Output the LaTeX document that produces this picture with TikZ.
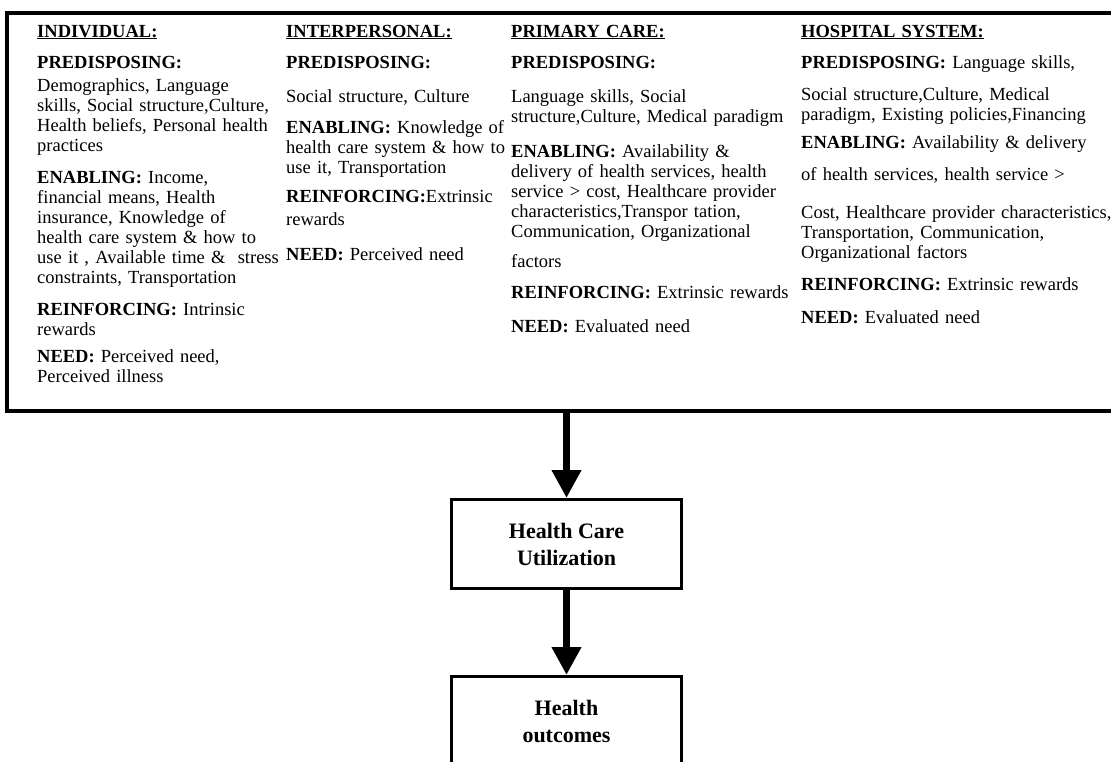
\documentclass[tikz,border=0pt]{standalone}
\usepackage{fontspec}
\setmainfont{Liberation Serif}
\usetikzlibrary{arrows.meta,positioning}

\newcommand{\hdr}[1]{\textbf{\underline{#1}}}
\newcommand{\lbl}[1]{\textbf{#1}}

\tikzset{
  txt/.style={anchor=base west, inner sep=0pt, text width=330pt, align=left,
    font=\fontsize{18.5}{20}\selectfont},
  frame/.style={draw, line width=3.5pt, inner sep=0pt},
  flowbox/.style={draw, line width=3pt, minimum width=230pt, minimum height=89pt,
    align=center, font=\bfseries\fontsize{22}{27}\selectfont},
  bigarrow/.style={line width=7pt, -{Triangle[width=28pt,length=28pt]}}
}

\begin{document}
\begin{tikzpicture}[x=1pt,y=-1pt]
	\useasboundingbox (0,0) rectangle (1111,761);
	\clip (0,0) rectangle (1111,761);
	
	% big frame round the four levels
	\node[frame, anchor=north west, minimum width=1125pt, minimum height=398pt] (levels) at (5,11) {};
	
	% individual
	\node[txt] (hdrA) at (37,37) {\hdr{INDIVIDUAL:}};
	\node[txt] (preA) at (37,68) {\lbl{PREDISPOSING:}\\[3pt]Demographics, Language\\skills, Social structure,Culture,\\Health beliefs, Personal health\\practices};
	\node[txt] (enA) at (37,183) {\lbl{ENABLING:} Income,\\financial means, Health\\insurance, Knowledge of\\health care system \& how to\\use it , Available time \&~ stress\\constraints, Transportation};
	\node[txt] (reA) at (37,315) {\lbl{REINFORCING:} Intrinsic\\rewards};
	\node[txt] (neA) at (37,362) {\lbl{NEED:} Perceived need,\\Perceived illness};
	
	% interpersonal
	\node[txt] (hdrB) at (286,37) {\hdr{INTERPERSONAL:}};
	\node[txt] (preB) at (286,68) {\lbl{PREDISPOSING:}};
	\node[txt] (preBx) at (286,102) {Social structure, Culture};
	\node[txt] (enB) at (286,133) {\lbl{ENABLING:} Knowledge of\\health care system \& how to\\use it, Transportation};
	\node[txt] (reB) at (286,202) {\lbl{REINFORCING:}Extrinsic\\[3pt]rewards};
	\node[txt] (neB) at (286,260) {\lbl{NEED:} Perceived need};
	
	% primary care
	\node[txt] (hdrC) at (511,37) {\hdr{PRIMARY CARE:}};
	\node[txt] (preC) at (511,68) {\lbl{PREDISPOSING:}};
	\node[txt] (preCx) at (511,102) {Language skills, Social\\structure,Culture, Medical paradigm};
	\node[txt] (enC) at (511,157) {\lbl{ENABLING:} Availability \&\\delivery of health services, health\\service > cost, Healthcare provider\\characteristics,Transpor tation,\\Communication, Organizational};
	\node[txt] (enCx) at (511,267) {factors};
	\node[txt] (reC) at (511,298) {\lbl{REINFORCING:} Extrinsic rewards};
	\node[txt] (neC) at (511,332) {\lbl{NEED:} Evaluated need};
	
	% hospital system
	\node[txt] (hdrD) at (801,37) {\hdr{HOSPITAL SYSTEM:}};
	\node[txt] (preD) at (801,68) {\lbl{PREDISPOSING:} Language skills,};
	\node[txt] (preDx) at (801,100) {Social structure,Culture, Medical\\paradigm, Existing policies,Financing};
	\node[txt] (enD) at (801,148) {\lbl{ENABLING:} Availability \& delivery};
	\node[txt] (enDx) at (801,180) {of health services, health service >};
	\node[txt] (enDy) at (801,218) {Cost, Healthcare provider characteristics,\\Transportation, Communication,\\Organizational factors};
	\node[txt] (reD) at (801,290) {\lbl{REINFORCING:} Extrinsic rewards};
	\node[txt] (neD) at (801,323) {\lbl{NEED:} Evaluated need};
	
	% flow down
	\node[flowbox, anchor=north west] (util) at (450,498) {Health Care\\Utilization};
	\node[flowbox, anchor=north west] (outcome) at (450,675) {Health\\outcomes};
	
	\draw[bigarrow] (levels.south -| util.north) -- (util.north);
	\draw[bigarrow] (util) -- (outcome);
\end{tikzpicture}
\end{document}
